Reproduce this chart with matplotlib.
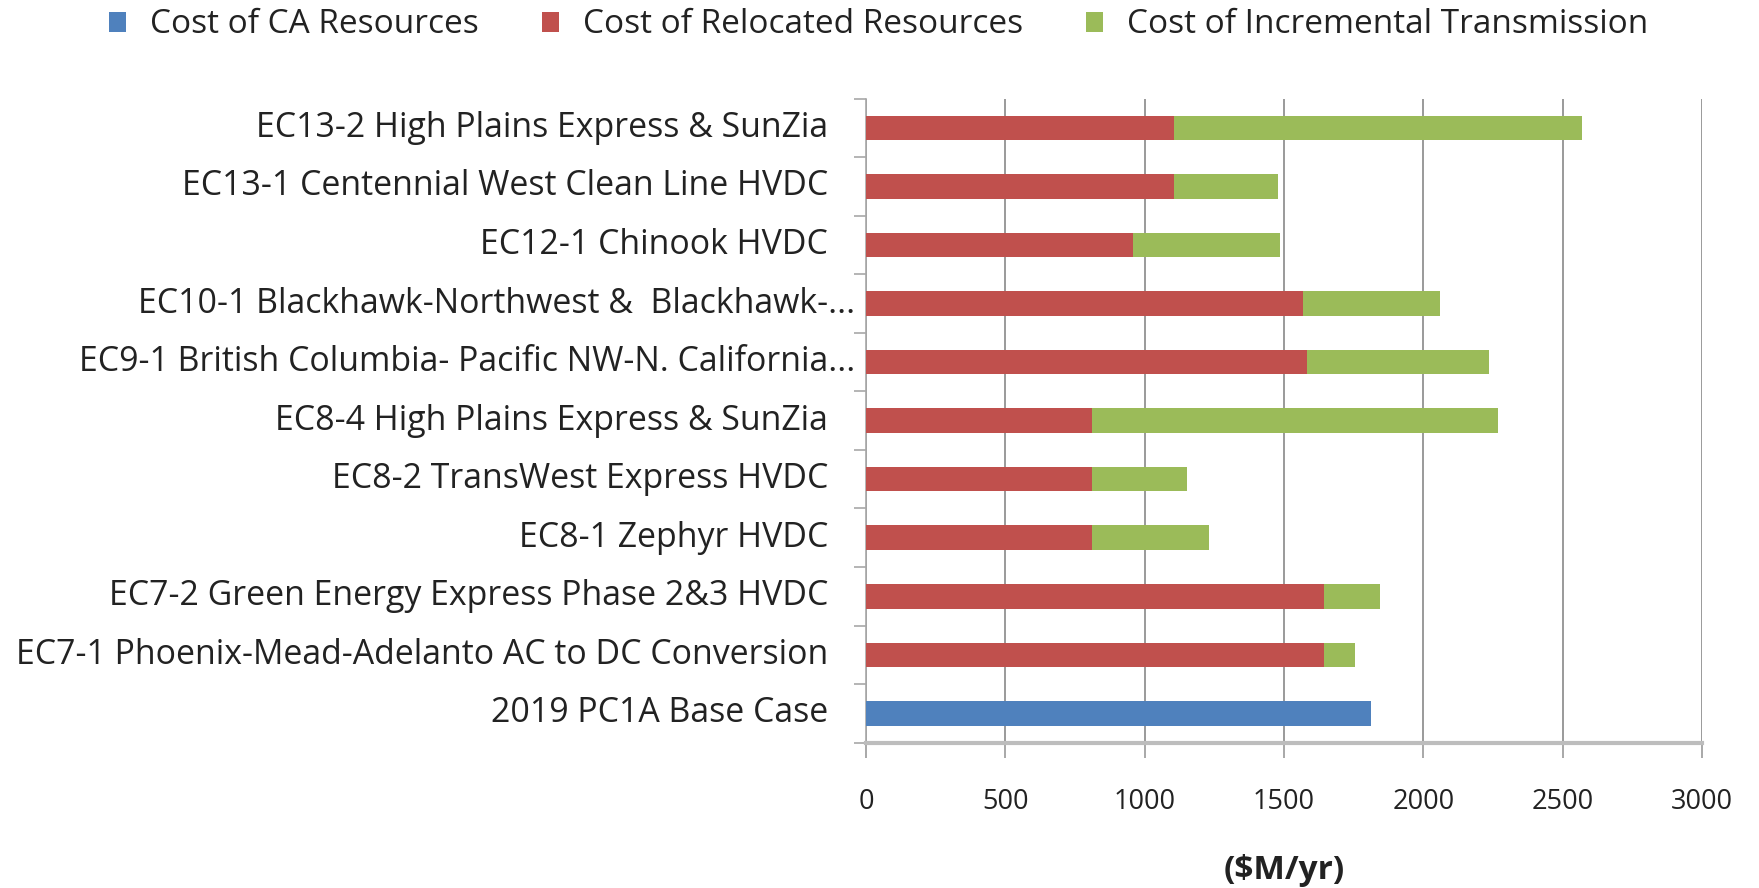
import matplotlib
matplotlib.use("Agg")
import matplotlib.pyplot as plt
from matplotlib.patches import Patch
import matplotlib.transforms as mtransforms

categories = [
    "2019 PC1A Base Case",
    "EC7-1 Phoenix-Mead-Adelanto AC to DC Conversion",
    "EC7-2 Green Energy Express Phase 2&3 HVDC",
    "EC8-1 Zephyr HVDC",
    "EC8-2 TransWest Express HVDC",
    "EC8-4 High Plains Express & SunZia",
    "EC9-1 British Columbia- Pacific NW-N. California...",
    "EC10-1 Blackhawk-Northwest &  Blackhawk-...",
    "EC12-1 Chinook HVDC",
    "EC13-1 Centennial West Clean Line HVDC",
    "EC13-2 High Plains Express & SunZia",
]
truncated = [False, False, False, False, False, False, True, True, False, False, False]
ca_resources = [1813, 0, 0, 0, 0, 0, 0, 0, 0, 0, 0]
relocated = [0, 1644, 1644, 812, 812, 812, 1582, 1569, 958, 1107, 1107]
incremental = [0, 110, 202, 420, 341, 1456, 653, 491, 528, 371, 1463]
xticks = [0, 500, 1000, 1500, 2000, 2500, 3000]

BLUE = "#4F81BD"
RED = "#C0504D"
GREEN = "#9BBB59"
FONT = "Open Sans"
FS = 24.4
XFS = 19.5

plt.rcParams['font.family'] = [FONT, 'DejaVu Sans']

fig = plt.figure(figsize=(17.59, 8.88), dpi=100)
ax = fig.add_axes([0.4923, 0.1637, 0.9676 - 0.4923, 0.8889 - 0.1637])

y = list(range(len(categories)))
h = 0.42
ax.barh(y, ca_resources, height=h, color=BLUE, zorder=3)
ax.barh(y, relocated, height=h, color=RED, zorder=3)
ax.barh(y, incremental, left=relocated, height=h, color=GREEN, zorder=3)

ax.set_xlim(0, 3000)
ax.set_ylim(-0.5, len(categories) - 0.5)
ax.set_xticks(xticks)
ax.set_xticklabels([str(t) for t in xticks], fontsize=XFS, color="#222222")
ax.xaxis.grid(True, color="#9A9A9A", linewidth=1.4, zorder=0)
ax.set_axisbelow(True)

ax.set_yticks([i - 0.5 for i in range(len(categories) + 1)])
ax.set_yticklabels([])
ax.tick_params(axis='y', length=9, width=1.2, color="#A8A8A8", direction='out')
ax.tick_params(axis='x', length=11, width=1.4, color="#A8A8A8", direction='out', pad=22)

for s in ['top', 'right']:
    ax.spines[s].set_visible(False)
ax.spines['left'].set_color("#A8A8A8")
ax.spines['left'].set_linewidth(1.2)
ax.spines['bottom'].set_color("#BDBDBD")
ax.spines['bottom'].set_linewidth(3)

for i, (lab, tr) in enumerate(zip(categories, truncated)):
    off = -11 if tr else -38
    trans = mtransforms.blended_transform_factory(ax.transAxes, ax.transData) + \
        mtransforms.ScaledTranslation(off / 100, 0, fig.dpi_scale_trans)
    ax.text(0, i, lab, transform=trans, ha='right', va='center', fontsize=FS, color="#222222")

ax.set_xlabel("($M/yr)", fontsize=24, fontweight='bold', color="#222222", labelpad=27)

handles = [Patch(facecolor=BLUE, label="Cost of CA Resources"),
           Patch(facecolor=RED, label="Cost of Relocated Resources"),
           Patch(facecolor=GREEN, label="Cost of Incremental Transmission")]
leg = fig.legend(handles=handles, loc='center', bbox_to_anchor=(0.4995, 0.972), ncol=3,
                 frameon=False, fontsize=24, handlelength=0.5, handleheight=0.55,
                 handletextpad=0.72, columnspacing=1.9)
for t in leg.get_texts():
    t.set_color("#222222")

fig.savefig("out.png", dpi=100)
